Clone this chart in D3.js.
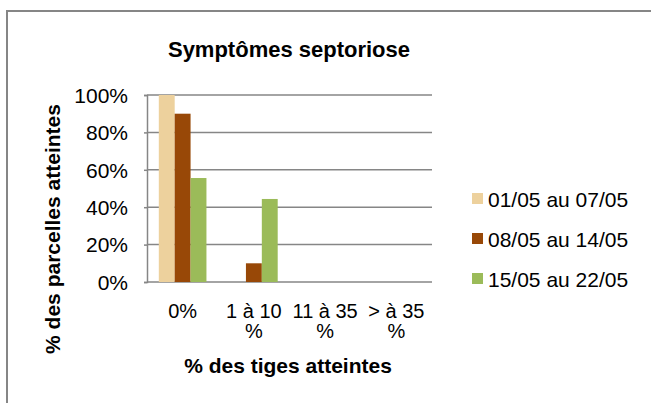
<!DOCTYPE html>
<html>
<head>
<meta charset="utf-8">
<script src="https://cdn.jsdelivr.net/npm/d3@7"></script>
<style>
	body { margin: 0; background: #fff; }
	text { font-family: "Liberation Sans", Arial, sans-serif; fill: #000; }
</style>
</head>
<body>
<svg id="chart" width="651" height="403"></svg>
<script>

// data
const CATEGORIES = [['0%'], ['1 à 10', '%'], ['11 à 35', '%'], ['> à 35', '%']];
const SERIES = ['01/05 au 07/05', '08/05 au 14/05', '15/05 au 22/05'];
const VALUES_S1 = [100, 0, 0, 0];
const VALUES_S2 = [90, 10, 0, 0];
const VALUES_S3 = [55.6, 44.4, 0, 0];
const COLORS = ['#EDD19D', '#984807', '#9BBB59'];
const Y_TICKS = [0, 20, 40, 60, 80, 100];

const svg = d3.select('#chart');

// outer frame, runs off the right and bottom edge
svg.append('rect')
	.attr('x', 7)
	.attr('y', 11)
	.attr('width', 700)
	.attr('height', 450)
	.attr('fill', 'none')
	.attr('stroke', '#868686')
	.attr('stroke-width', 2);

const plot = { left: 147, right: 432, top: 95, bottom: 282 };

const x0 = d3.scaleBand()
	.domain(d3.range(CATEGORIES.length))
	.range([plot.left, plot.right]);

const x1 = d3.scaleBand()
	.domain(d3.range(SERIES.length))
	.range([11.8, x0.bandwidth() - 11.8]);

const y = d3.scaleLinear()
	.domain([0, 100])
	.range([plot.bottom, plot.top]);

// gridlines
svg.append('g')
	.selectAll('line')
	.data(Y_TICKS)
	.enter()
	.append('line')
		.attr('x1', plot.left)
		.attr('x2', plot.right)
		.attr('y1', d => y(d))
		.attr('y2', d => y(d))
		.attr('stroke', '#868686')
		.attr('stroke-width', 1.5);

// y axis
const y_axis = svg.append('g')
	.attr('transform', `translate(${plot.left},0)`)
	.call(d3.axisLeft(y).tickValues(Y_TICKS).tickSize(3).tickFormat(d => d + '%'));
y_axis.select('.domain').attr('stroke', '#868686').attr('stroke-width', 1.5);
y_axis.selectAll('.tick line').attr('stroke', '#868686').attr('stroke-width', 1.5);
y_axis.selectAll('.tick text')
	.attr('x', -19)
	.attr('dy', '0.35em')
	.style('font-size', '21px')
	.style('font-family', '"Liberation Sans", Arial, sans-serif')
	.attr('fill', '#000');

// bars
const series_values = [VALUES_S1, VALUES_S2, VALUES_S3];
const bar_data = [];
series_values.forEach((vals, s) => {
	vals.forEach((v, c) => bar_data.push({ s: s, c: c, v: v }));
});

svg.append('g')
	.selectAll('rect')
	.data(bar_data.filter(d => d.v > 0))
	.enter()
	.append('rect')
		.attr('x', d => x0(d.c) + x1(d.s))
		.attr('width', x1.bandwidth())
		.attr('y', d => y(d.v))
		.attr('height', d => y(0) - y(d.v))
		.attr('fill', d => COLORS[d.s]);

// x labels (wrapped like the original)
const x_labels = svg.append('g')
	.selectAll('text')
	.data(CATEGORIES)
	.enter()
	.append('text')
		.attr('text-anchor', 'middle')
		.style('font-size', '20px')
		.attr('transform', (d, i) => `translate(${x0(i) + x0.bandwidth() / 2},318)`);
x_labels.selectAll('tspan')
	.data(d => d)
	.enter()
	.append('tspan')
		.attr('x', 0)
		.attr('dy', (d, i) => i === 0 ? 0 : 20)
		.text(d => d);

// title
svg.append('text')
	.attr('x', 289)
	.attr('y', 57)
	.attr('text-anchor', 'middle')
	.style('font-size', '22px')
	.style('font-weight', 'bold')
	.text('Symptômes septoriose');

// axis titles
svg.append('text')
	.attr('x', 288)
	.attr('y', 373)
	.attr('text-anchor', 'middle')
	.style('font-size', '21px')
	.style('font-weight', 'bold')
	.text('% des tiges atteintes');

svg.append('text')
	.attr('transform', 'translate(60,229) rotate(-90)')
	.attr('text-anchor', 'middle')
	.style('font-size', '21px')
	.style('font-weight', 'bold')
	.text('% des parcelles atteintes');

// legend
const legend = svg.append('g')
	.selectAll('g')
	.data(SERIES)
	.enter()
	.append('g')
		.attr('transform', (d, i) => `translate(472,${199 + i * 40})`);
legend.append('rect')
	.attr('x', 0)
	.attr('y', -6)
	.attr('width', 11)
	.attr('height', 11)
	.attr('fill', (d, i) => COLORS[i]);
legend.append('text')
	.attr('x', 16)
	.attr('y', 8)
	.style('font-size', '21px')
	.text(d => d);

</script>
</body>
</html>
